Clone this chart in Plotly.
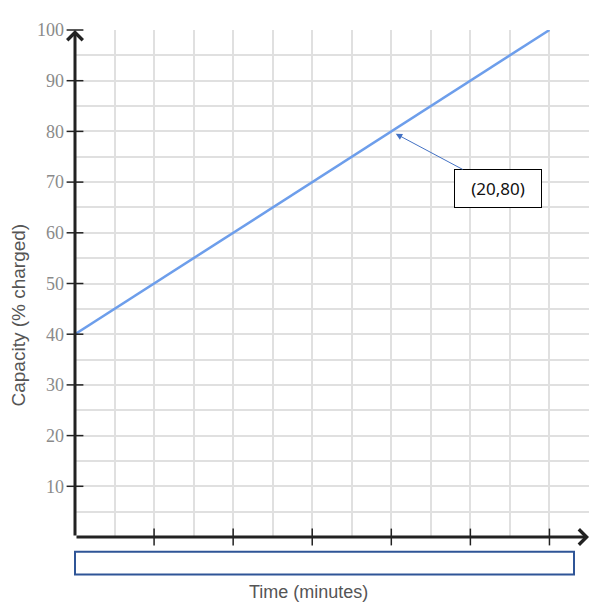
import plotly.graph_objects as go

# Data
time_min = [0, 20, 30]
capacity = [40, 80, 100]
x_tick_vals = [5, 10, 15, 20, 25, 30]
y_tick_vals = [10, 20, 30, 40, 50, 60, 70, 80, 90, 100]
y_tick_text = ["10", "20", "30", "40", "50", "60", "70", "80", "90", "100"]
point_label = "(20,80)"
x_title = "Time (minutes)"
y_title = "Capacity (% charged)"

X_MAX = 32.5
Y_MAX = 100
GRID = "#e0e0e0"
AXIS = "#222222"

fig = go.Figure()

fig.add_trace(go.Scatter(
    x=time_min, y=capacity, mode="lines",
    line=dict(color="#6d9eeb", width=2.5), hoverinfo="skip", showlegend=False,
))

# crossing tick marks
fig.add_trace(go.Scatter(
    x=x_tick_vals, y=[0] * len(x_tick_vals), mode="markers",
    marker=dict(symbol="line-ns", size=12, line=dict(color=AXIS, width=1.5)),
    cliponaxis=False, hoverinfo="skip", showlegend=False,
))
fig.add_trace(go.Scatter(
    x=[0] * len(y_tick_vals), y=y_tick_vals, mode="markers",
    marker=dict(symbol="line-ew", size=12, line=dict(color=AXIS, width=1.5)),
    cliponaxis=False, hoverinfo="skip", showlegend=False,
))

fig.update_layout(
    width=595, height=599,
    margin=dict(l=67, r=14, t=14, b=70),
    paper_bgcolor="white", plot_bgcolor="white",
    xaxis=dict(
        range=[0, X_MAX], tickmode="linear", tick0=0, dtick=5,
        showticklabels=False, ticks="", showgrid=True, gridcolor=GRID, gridwidth=1.5,
        minor=dict(tickmode="linear", tick0=0, dtick=2.5, showgrid=True, gridcolor=GRID, gridwidth=1.5),
        zeroline=False, showline=False, fixedrange=True,
    ),
    yaxis=dict(
        range=[0, Y_MAX], tickmode="array", tickvals=y_tick_vals, ticktext=y_tick_text,
        ticks="", ticklabelstandoff=10,
        tickfont=dict(family="Liberation Serif", size=18, color="#8a8a8a"),
        showgrid=True, gridcolor=GRID, gridwidth=1.5,
        minor=dict(tickmode="linear", tick0=0, dtick=5, showgrid=True, gridcolor=GRID, gridwidth=1.5),
        zeroline=False, showline=False, fixedrange=True,
    ),
    showlegend=False,
)

# axes with arrowheads
fig.add_annotation(x=X_MAX, y=0, ax=0, ay=0, xref="x", yref="y", axref="x", ayref="y",
                   showarrow=True, arrowhead=4, arrowsize=1, arrowwidth=3, arrowcolor=AXIS, text="")
fig.add_annotation(x=0, y=Y_MAX, ax=0, ay=0, xref="x", yref="y", axref="x", ayref="y",
                   showarrow=True, arrowhead=4, arrowsize=1, arrowwidth=3, arrowcolor=AXIS, text="")

# callout label
fig.add_annotation(
    x=20, y=80, xref="x", yref="y", text=point_label,
    showarrow=True, ax=107, ay=57, arrowhead=2, arrowsize=1.3, arrowwidth=1,
    arrowcolor="#4472C4", standoff=5,
    bordercolor="#000000", borderwidth=1, bgcolor="white",
    width=84, height=35, font=dict(family="Noto Sans", size=17, color="#111111"),
)

# blank box covering x tick labels
fig.add_shape(type="rect", xref="paper", yref="paper",
              x0=0, x1=(574 - 75) / 514, y0=(537 - 575) / 515, y1=(537 - 552) / 515,
              line=dict(color="#2F5597", width=2), fillcolor="white")

# axis titles
fig.add_annotation(text=x_title, xref="paper", yref="paper",
                   x=(308 - 75) / 514, y=(537 - 593) / 515, showarrow=False,
                   xanchor="center", yanchor="middle",
                   font=dict(family="Liberation Sans", size=18, color="#555555"))
fig.add_annotation(text=y_title, xref="paper", yref="paper", textangle=-90,
                   x=(18 - 75) / 514, y=(537 - 312) / 515, showarrow=False,
                   xanchor="center", yanchor="middle",
                   font=dict(family="Liberation Sans", size=19, color="#555555"))

fig.write_html("out.html")
